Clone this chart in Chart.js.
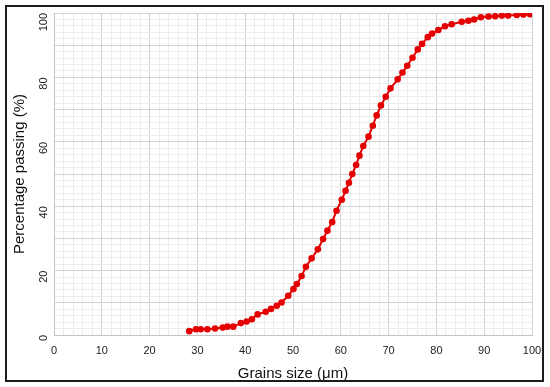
<!DOCTYPE html>
<html>
<head>
<meta charset="utf-8">
<script src="https://cdn.jsdelivr.net/npm/chart.js@4"></script>
<style>
  body { margin: 0; background: #fff; }
  #wrap { position: relative; width: 550px; height: 387px; }
  #frame { position: absolute; left: 5px; top: 5px; width: 535px; height: 373px; border: 2px solid #1c1c1c; pointer-events: none; }
</style>
</head>
<body>
<div id="wrap">
  <canvas id="thecanvas" width="550" height="387"></canvas>
  <div id="frame"></div>
</div>
<script>
// grain size distribution
const grainsize = [28.3, 29.7, 30.7, 32.1, 33.7, 35.3, 36.3, 37.5, 39.1, 40.3,
  41.4, 42.6, 44.3, 45.4, 46.6, 47.6, 49.0, 50.1, 50.8, 51.8,
  52.7, 53.9, 55.2, 56.3, 57.2, 58.2, 59.1, 60.2, 61.0, 61.7,
  62.4, 63.2, 63.9, 64.7, 65.8, 66.7, 67.5, 68.4, 69.4, 70.4,
  71.9, 72.9, 73.9, 75.0, 76.1, 77.0, 78.2, 79.1, 80.4, 81.8,
  83.2, 85.3, 86.7, 87.9, 89.3, 90.9, 92.3, 93.7, 95.0, 96.8,
  98.2, 99.6];
const passing = [1.2, 1.8, 1.8, 1.8, 2.0, 2.3, 2.6, 2.6, 3.7, 4.2,
  4.9, 6.4, 7.2, 8.1, 9.1, 10.1, 12.2, 14.3, 15.8, 18.3,
  21.2, 23.8, 26.6, 29.8, 32.4, 35.1, 38.6, 42.0, 44.8, 47.3,
  50.0, 52.8, 55.7, 58.7, 61.6, 65.0, 68.2, 71.3, 74.0, 76.6,
  79.4, 81.5, 83.6, 86.1, 88.7, 90.4, 92.5, 93.6, 94.7, 95.9,
  96.5, 97.3, 97.6, 98.0, 98.7, 98.9, 99.0, 99.2, 99.2, 99.4,
  99.5, 99.6];
const xticklabels = [0, 10, 20, 30, 40, 50, 60, 70, 80, 90, 100];
const yticklabels = [0, 20, 40, 60, 80, 100];

const pts = [];
for (let i = 0; i < grainsize.length; i++) {
  pts.push({ x: grainsize[i], y: passing[i] });
}

function gridcol(ctx, every) {
  if (!ctx.tick) return '#eeeeee';
  return Math.round(ctx.tick.value) % every === 0 ? '#d2d2d2' : '#ededed';
}

const red = 'rgb(228,0,0)';

new Chart(document.getElementById('thecanvas'), {
  type: 'scatter',
  data: {
    datasets: [{
      data: pts,
      showLine: true,
      borderColor: red,
      backgroundColor: red,
      borderWidth: 2,
      pointRadius: 3.3,
      pointBorderWidth: 0
    }]
  },
  options: {
    responsive: false,
    animation: false,
    layout: { padding: { top: 13, right: 18, left: 0, bottom: 0 } },
    plugins: { legend: { display: false }, tooltip: { enabled: false } },
    scales: {
      x: {
        type: 'linear', min: 0, max: 100,
        afterFit: function (s) { s.height = 52; s.paddingLeft = 0; s.paddingRight = 0; },
        border: { color: '#c4c4c4', width: 1 },
        grid: { color: c => gridcol(c, 10), drawTicks: false },
        ticks: {
          stepSize: 2, autoSkip: false, maxRotation: 0, padding: 9,
          color: '#222', font: { family: 'Liberation Sans', size: 11 },
          callback: v => xticklabels.includes(v) ? String(v) : ''
        },
        title: {
          display: true, text: 'Grains size (μm)', color: '#111',
          font: { family: 'Liberation Sans', size: 15 }, padding: { top: 4 }
        }
      },
      y: {
        type: 'linear', min: 0, max: 100,
        afterFit: function (s) { s.width = 54; s.paddingTop = 0; s.paddingBottom = 0; },
        border: { color: '#c4c4c4', width: 1 },
        grid: { color: c => gridcol(c, 10), drawTicks: false },
        ticks: {
          stepSize: 2, autoSkip: false, minRotation: 90, maxRotation: 90, padding: 10,
          color: '#222', font: { family: 'Liberation Sans', size: 11 },
          callback: v => yticklabels.includes(v) ? String(v) : ''
        },
        title: {
          display: true, text: 'Percentage passing (%)', color: '#111',
          font: { family: 'Liberation Sans', size: 15 }, padding: { top: 11 }
        }
      }
    }
  }
});
</script>
</body>
</html>
